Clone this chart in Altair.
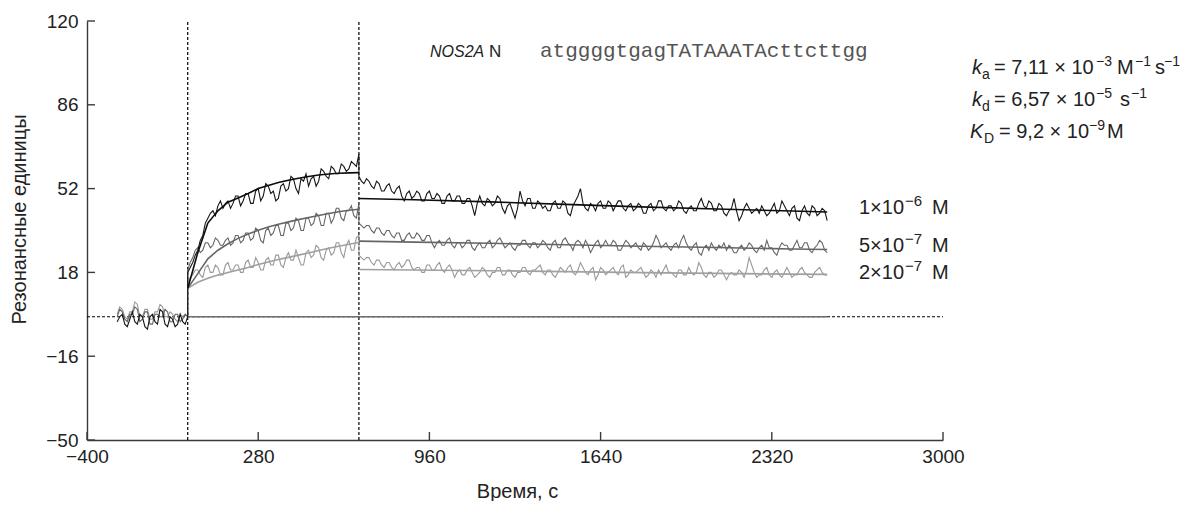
import altair as alt
import pandas as pd

# ---------------- data ----------------
x_ticks = [-400, 280, 960, 1640, 2320, 3000]
y_ticks = [-50, -16, 18, 52, 86, 120]
phase_bounds = [0, 680]        # start / end of injection, s
zero_span = [0, 2540]          # solid zero reference line

dt = 10
t_base_start = -280
t_assoc_start = 0
t_dis_start = 680

# 1e-6 M (black)
base_1 = [-2, 0, 1, -3, -4, -1, 2, -2, -3, 1,
          0, -4, -5, 0, 1, -2, -3, 3, 2, -3,
          -4, 0, -1, -4, -3, 1, -2, -3, 0]
assoc_1 = [18, 20, 22, 25, 27, 31, 33, 38, 40, 42,
           43, 41, 45, 47, 44, 46, 47, 44, 46, 49,
           49, 45, 47, 50, 50, 46, 46, 51, 52, 47,
           49, 54, 53, 50, 51, 47, 48, 53, 54, 51,
           52, 57, 56, 52, 50, 56, 55, 58, 53, 56,
           57, 53, 55, 60, 59, 57, 56, 61, 60, 58,
           58, 62, 61, 59, 60, 63, 62, 61, 66]
dis_1 = [57, 55, 54, 56, 55, 53, 52, 55, 54, 51,
         51, 53, 54, 51, 50, 52, 53, 49, 47, 50,
         51, 48, 49, 51, 50, 47, 47, 50, 51, 48,
         48, 50, 49, 46, 46, 49, 50, 47, 47, 49,
         49, 46, 46, 48, 48, 45, 41, 46, 49, 46,
         45, 48, 47, 45, 46, 49, 48, 44, 42, 45,
         46, 43, 40, 44, 51, 47, 45, 48, 48, 44,
         44, 47, 46, 44, 45, 43, 43, 46, 47, 44,
         44, 47, 46, 42, 41, 45, 47, 49, 52, 46,
         44, 43, 46, 45, 43, 46, 47, 44, 44, 47,
         46, 43, 45, 47, 47, 44, 43, 45, 46, 43,
         44, 46, 45, 42, 42, 45, 46, 43, 44, 47,
         47, 44, 43, 45, 45, 43, 44, 47, 46, 43,
         42, 44, 45, 43, 43, 46, 48, 45, 44, 47,
         46, 43, 43, 46, 45, 42, 41, 43, 44, 48,
         43, 39, 41, 44, 46, 44, 42, 43, 44, 42,
         45, 43, 41, 42, 44, 46, 42, 43, 47, 45,
         43, 41, 44, 45, 40, 39, 43, 45, 42, 41,
         45, 44, 41, 42, 44, 43, 39]

# 5e-7 M (grey)
base_5 = [0, 3, 2, -1, -2, 1, 1, 4, 3, -2,
          -1, 2, 2, -3, -3, 1, 1, 0, 0, 3,
          2, -2, -2, 1, 1, -2, -1, 1, 0]
assoc_5 = [19, 22, 24, 27, 28, 26, 27, 30, 30, 28,
           29, 32, 31, 29, 29, 31, 32, 29, 30, 33,
           33, 30, 31, 34, 34, 31, 32, 36, 35, 31,
           30, 35, 36, 33, 34, 37, 37, 33, 33, 38,
           38, 35, 36, 40, 39, 35, 35, 40, 40, 37,
           38, 42, 41, 37, 37, 42, 42, 38, 40, 44,
           44, 40, 39, 43, 43, 45, 41, 40, 46]
dis_5 = [38, 37, 36, 37, 37, 35, 34, 36, 36, 34,
         33, 35, 35, 33, 32, 34, 34, 31, 31, 33,
         34, 32, 32, 34, 33, 31, 31, 33, 33, 30,
         28, 30, 31, 29, 29, 31, 32, 29, 28, 30,
         30, 28, 29, 31, 31, 28, 27, 29, 30, 28,
         28, 30, 31, 28, 29, 31, 32, 30, 28, 29,
         30, 28, 27, 29, 29, 31, 31, 29, 28, 30,
         30, 28, 29, 31, 30, 28, 27, 30, 31, 28,
         28, 31, 32, 30, 29, 27, 30, 31, 30, 28,
         31, 29, 26, 28, 30, 31, 28, 29, 31, 29,
         29, 31, 30, 27, 27, 29, 31, 30, 28, 29,
         30, 28, 27, 30, 29, 27, 28, 30, 33, 31,
         28, 29, 30, 28, 27, 29, 30, 28, 31, 33,
         30, 28, 27, 29, 30, 26, 25, 28, 29, 27,
         30, 28, 27, 29, 28, 30, 27, 29, 28, 26,
         26, 28, 29, 27, 28, 30, 29, 27, 26, 28,
         29, 27, 31, 28, 28, 26, 25, 28, 30, 29,
         29, 27, 27, 29, 31, 28, 28, 30, 30, 27,
         26, 28, 29, 31, 30, 27, 26]

# 2e-7 M (light grey)
base_2 = [1, 4, 3, 0, -1, 2, 2, 6, 5, 0,
          0, 3, 3, -1, -1, 2, 2, 5, 4, 0,
          0, 2, 1, -1, -2, 1, 0, 1, 0]
assoc_2 = [14, 16, 17, 19, 19, 17, 16, 20, 21, 18,
           18, 21, 20, 17, 17, 21, 22, 19, 19, 21,
           21, 18, 18, 22, 23, 20, 20, 24, 22, 19,
           19, 23, 24, 21, 21, 25, 25, 21, 20, 24,
           26, 23, 23, 27, 24, 21, 21, 26, 27, 24,
           25, 29, 28, 24, 23, 27, 28, 25, 26, 30,
           30, 26, 24, 29, 31, 27, 27, 32, 33]
dis_2 = [25, 24, 23, 24, 24, 22, 21, 23, 23, 21,
         20, 22, 22, 20, 19, 21, 22, 20, 21, 23,
         23, 20, 19, 20, 20, 18, 18, 21, 21, 19,
         19, 21, 22, 19, 18, 20, 21, 19, 16, 18,
         19, 17, 17, 19, 20, 18, 16, 17, 18, 20,
         19, 17, 16, 18, 18, 20, 20, 17, 17, 19,
         19, 17, 16, 18, 18, 20, 20, 18, 17, 19,
         19, 20, 21, 18, 17, 19, 19, 17, 16, 18,
         20, 19, 18, 20, 21, 18, 17, 19, 22, 20,
         18, 17, 19, 20, 15, 17, 20, 19, 17, 18,
         19, 20, 18, 17, 20, 21, 16, 17, 19, 18,
         18, 19, 20, 18, 16, 17, 19, 18, 16, 19,
         17, 19, 21, 18, 18, 17, 16, 19, 19, 17,
         17, 20, 18, 17, 18, 22, 20, 17, 16, 18,
         18, 16, 17, 19, 19, 17, 15, 17, 18, 17,
         17, 19, 18, 16, 19, 24, 21, 18, 16, 17,
         17, 19, 20, 17, 16, 18, 19, 17, 16, 18,
         20, 18, 16, 17, 17, 19, 20, 18, 17, 16,
         16, 18, 19, 20, 18, 17, 17]

# fitted curves
fit_t_assoc = [0, 40, 80, 120, 160, 200, 240, 280, 320, 360,
               400, 440, 480, 520, 560, 600, 640, 680]
fit_t_dis = [680, 900, 1200, 1500, 1800, 2100, 2400, 2540]
fit_a_1 = [11.5, 26, 38, 43, 46.5, 48.2, 50, 52, 53.3, 54.5,
           55.4, 56.2, 56.9, 57.5, 57.9, 58.2, 58.4, 58.5]
fit_a_5 = [11.5, 17.5, 23.5, 27, 29.6, 31.8, 33.6, 35.1, 36.4, 37.5,
           38.5, 39.4, 40.3, 41.1, 41.9, 42.6, 43.2, 43.6]
fit_a_2 = [11.5, 14, 15.6, 16.9, 18, 19, 20, 21.2, 22.2, 23.2,
           24.1, 25.0, 25.9, 26.9, 27.8, 28.6, 29.4, 30.1]
fit_d_1 = [48, 47.5, 46.6, 45.6, 44.6, 43.7, 42.9, 42.5]
fit_d_5 = [30.7, 30.3, 29.8, 29.2, 28.6, 28.1, 27.5, 27.3]
fit_d_2 = [19.2, 19.0, 18.7, 18.3, 17.9, 17.6, 17.3, 17.2]

# ---------------- tables ----------------
series = [
    ("1e-6", base_1, assoc_1, dis_1, fit_a_1, fit_d_1, "#161616", "#0d0d0d"),
    ("5e-7", base_5, assoc_5, dis_5, fit_a_5, fit_d_5, "#656565", "#666666"),
    ("2e-7", base_2, assoc_2, dis_2, fit_a_2, fit_d_2, "#999999", "#a0a0a0"),
]

NARROW = "'Liberation Sans Narrow', 'Liberation Sans', sans-serif"
SANS = "'Liberation Sans', sans-serif"

xaxis = alt.Axis(values=x_ticks, format="d", title="Время, с", ticks=False,
                 grid=False, labelPadding=7, labelFontSize=19,
                 labelFont=NARROW, labelColor="#222",
                 labelFlush=False, labelOverlap=False,
                 domainColor="#3a3a3a", domainWidth=1.4,
                 titleFont=SANS, titleFontSize=20,
                 titleFontWeight="normal", titleColor="#222",
                 titleX=430, titleY=57, titleAlign="center",
                 titleBaseline="alphabetic")
yaxis = alt.Axis(values=y_ticks, format="d", title="Резонансные единицы",
                 ticks=False, grid=False, labelPadding=9, labelFontSize=19,
                 labelFont=NARROW, labelColor="#222",
                 labelFlush=False, labelOverlap=False,
                 domainColor="#3a3a3a", domainWidth=1.4,
                 titleFont=SANS, titleFontSize=20,
                 titleFontWeight="normal", titleColor="#222",
                 titleX=-62, titleY=198, titleAngle=270, titleAlign="center",
                 titleBaseline="alphabetic")
xscale = alt.Scale(domain=[x_ticks[0], x_ticks[-1]], nice=False, zero=False)
yscale = alt.Scale(domain=[y_ticks[0], y_ticks[-1]], nice=False, zero=False)


def X(f):
    return alt.X(f, type="quantitative", scale=xscale, axis=xaxis)


def Y(f):
    return alt.Y(f, type="quantitative", scale=yscale, axis=yaxis)


layers = []

# dotted reference lines
vdf = pd.DataFrame({"t": phase_bounds, "lo": [y_ticks[0]] * 2, "hi": [y_ticks[-1]] * 2})
layers.append(alt.Chart(vdf).mark_rule(color="#000", strokeWidth=1.2, strokeDash=[3, 2])
              .encode(x=X("t"), y=Y("lo"), y2="hi:Q"))
hdf = pd.DataFrame({"a": [x_ticks[0]], "b": [x_ticks[-1]], "v": [0]})
layers.append(alt.Chart(hdf).mark_rule(color="#000", strokeWidth=1.2, strokeDash=[3, 2])
              .encode(x=X("a"), x2="b:Q", y=Y("v")))
zdf = pd.DataFrame({"a": [zero_span[0]], "b": [zero_span[1]], "v": [0]})
layers.append(alt.Chart(zdf).mark_rule(color="#6e6e6e", strokeWidth=1.6)
              .encode(x=X("a"), x2="b:Q", y=Y("v")))

# raw sensorgrams (light first so black is on top)
for name, base, assoc, dis, fa, fd, col, fcol in reversed(series):
    rows = []
    idx = 0
    for start, vals in [(t_base_start, base), (t_assoc_start, assoc), (t_dis_start, dis)]:
        for i, v in enumerate(vals):
            rows.append({"t": start + dt * i, "ru": v, "idx": idx})
            idx += 1
    df = pd.DataFrame(rows)
    layers.append(alt.Chart(df).mark_line(strokeWidth=1.1, color=col)
                  .encode(x=X("t"), y=Y("ru"), order="idx:Q"))

# fitted curves
for name, base, assoc, dis, fa, fd, col, fcol in reversed(series):
    fdf = pd.DataFrame({"t": fit_t_assoc + fit_t_dis,
                        "ru": fa + fd,
                        "seg": ["a"] * len(fit_t_assoc) + ["d"] * len(fit_t_dis)})
    layers.append(alt.Chart(fdf).mark_line(strokeWidth=1.6, color=fcol)
                  .encode(x=X("t"), y=Y("ru"), detail="seg:N", order="t:Q"))

# inward ticks
ytdf = pd.DataFrame({"v": y_ticks})
layers.append(alt.Chart(ytdf).mark_rule(color="#3a3a3a", strokeWidth=1.4)
              .encode(y=Y("v"), x=alt.value(0), x2=alt.value(8)))
xtdf = pd.DataFrame({"v": x_ticks})
layers.append(alt.Chart(xtdf).mark_rule(color="#3a3a3a", strokeWidth=1.4)
              .encode(x=X("v"), y=alt.value(419), y2=alt.value(411)))

# ---------------- text ----------------
one = pd.DataFrame({"k": [0]})
OX, OY = 87, 21   # plot origin on the page


def txt(s, px, py, size, italic=False, color="#222", font=SANS):
    return (alt.Chart(one)
            .mark_text(text=s, align="left", baseline="alphabetic", fontSize=size,
                       fontStyle="italic" if italic else "normal", font=font,
                       color=color)
            .encode(x=alt.value(px - OX), y=alt.value(py - OY)))


M = "\u2212"
# title annotation
layers.append(txt("NOS2A", 430, 57, 16, italic=True))
layers.append(txt("N", 489, 57, 17))
layers.append(txt("atggggtgagTATAAATActtcttgg", 540, 57, 21, color="#555",
                  font="'Liberation Mono', monospace"))

# concentration labels
for lead, exp, base_y in [("1×10", M + "6", 214), ("5×10", M + "7", 252), ("2×10", M + "7", 279)]:
    layers.append(txt(lead, 859, base_y, 20))
    layers.append(txt(exp, 905, base_y - 8, 15))
    layers.append(txt("M", 932, base_y, 20))

# kinetic constants
layers += [
    txt("k", 972, 74, 20, italic=True), txt("a", 982, 79, 14),
    txt("= 7,11 × 10", 994, 74, 20), txt(M + "3", 1096, 66, 14),
    txt("M", 1117, 74, 20), txt(M + "1", 1135, 66, 14),
    txt("s", 1155, 74, 20), txt(M + "1", 1164, 66, 14),

    txt("k", 972, 106, 20, italic=True), txt("d", 982, 111, 14),
    txt("= 6,57 × 10", 994, 106, 20), txt(M + "5", 1096, 98, 14),
    txt("s", 1120, 106, 20), txt(M + "1", 1131, 98, 14),

    txt("K", 970, 138, 20, italic=True), txt("D", 984, 143, 14),
    txt("= 9,2 × 10", 999, 138, 20), txt(M + "9", 1089, 130, 14),
    txt("M", 1107, 138, 20),
]

chart = (alt.layer(*layers)
         .properties(width=856, height=419,
                     autosize=alt.AutoSizeParams(type="none"),
                     padding={"left": 79, "top": 13, "right": 237, "bottom": 61})
         .configure_view(stroke=None))

chart.save("out.html", embed_options={"renderer": "svg", "actions": False})
